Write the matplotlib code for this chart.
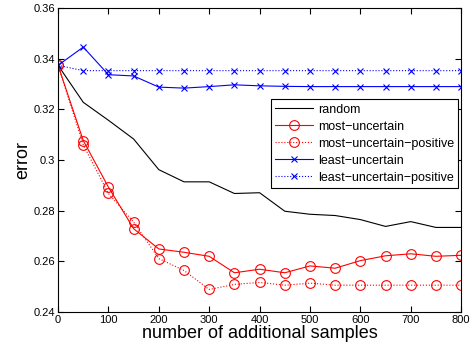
import numpy as np
import matplotlib
matplotlib.use('Agg')
import matplotlib.pyplot as plt

plt.rcParams['font.family'] = ['Liberation Sans', 'DejaVu Sans']

# number of additional samples
samples = [0, 50, 100, 150, 200, 250, 300, 350, 400, 450, 500, 550, 600, 650, 700, 750, 800]

random_err = [0.3374, 0.3228, 0.3157, 0.3083, 0.2962, 0.2914, 0.2914, 0.2868, 0.2871, 0.2798,
              0.2786, 0.2781, 0.2765, 0.2738, 0.2757, 0.2734, 0.2734]
most_unc = [0.3374, 0.3077, 0.2893, 0.2729, 0.2649, 0.2636, 0.2620, 0.2555, 0.2569, 0.2555,
            0.2582, 0.2573, 0.2603, 0.2622, 0.2630, 0.2620, 0.2624]
most_unc_pos = [0.3374, 0.3060, 0.2868, 0.2755, 0.2611, 0.2564, 0.2489, 0.2509, 0.2517, 0.2506,
                0.2514, 0.2506, 0.2506, 0.2506, 0.2506, 0.2506, 0.2506]
least_unc = [0.3374, 0.3446, 0.3337, 0.3332, 0.3288, 0.3284, 0.3290, 0.3297, 0.3293, 0.3291,
             0.3290, 0.3290, 0.3290, 0.3290, 0.3290, 0.3290, 0.3290]
least_unc_pos = [0.3374, 0.3353, 0.3353, 0.3353, 0.3353, 0.3353, 0.3353, 0.3353, 0.3353, 0.3353,
                 0.3353, 0.3353, 0.3353, 0.3353, 0.3353, 0.3353, 0.3353]

fig = plt.figure(figsize=(4.72, 3.51), dpi=100)
ax = fig.add_axes([0.123, 0.111, 0.854, 0.866])

ax.plot(samples, random_err, 'k-', lw=0.8, label='random')
ax.plot(samples, most_unc, 'r-', lw=0.8, marker='o', ms=7, mfc='none', mew=0.8,
        label='most\u2212uncertain')
ax.plot(samples, most_unc_pos, 'r:', lw=0.8, marker='o', ms=7, mfc='none', mew=0.8,
        label='most\u2212uncertain\u2212positive')
ax.plot(samples, least_unc, 'b-', lw=0.8, marker='x', ms=4.5, mew=0.8,
        label='least\u2212uncertain')
ax.plot(samples, least_unc_pos, 'b:', lw=0.8, marker='x', ms=4.5, mew=0.8,
        label='least\u2212uncertain\u2212positive')

ax.set_xlim(0, 800)
ax.set_ylim(0.24, 0.36)
ax.set_xticks(np.arange(0, 801, 100))
ax.set_yticks([0.24, 0.26, 0.28, 0.3, 0.32, 0.34, 0.36])
ax.set_yticklabels(['0.24', '0.26', '0.28', '0.3', '0.32', '0.34', '0.36'])
ax.tick_params(direction='in', top=True, right=True, labelsize=8, length=4, width=0.8, pad=2)
for s in ax.spines.values():
    s.set_linewidth(0.8)

ax.set_xlabel('number of additional samples', fontsize=13, labelpad=0)
ax.set_ylabel('error', fontsize=13, labelpad=2)

leg = ax.legend(loc='upper right', bbox_to_anchor=(0.993, 0.70), fontsize=9,
                frameon=True, fancybox=False, edgecolor='black', framealpha=1,
                handlelength=3.0, borderpad=0.35, labelspacing=0.4, handletextpad=0.4,
                borderaxespad=0)
leg.get_frame().set_linewidth(0.8)

fig.savefig('out.png', dpi=100)
